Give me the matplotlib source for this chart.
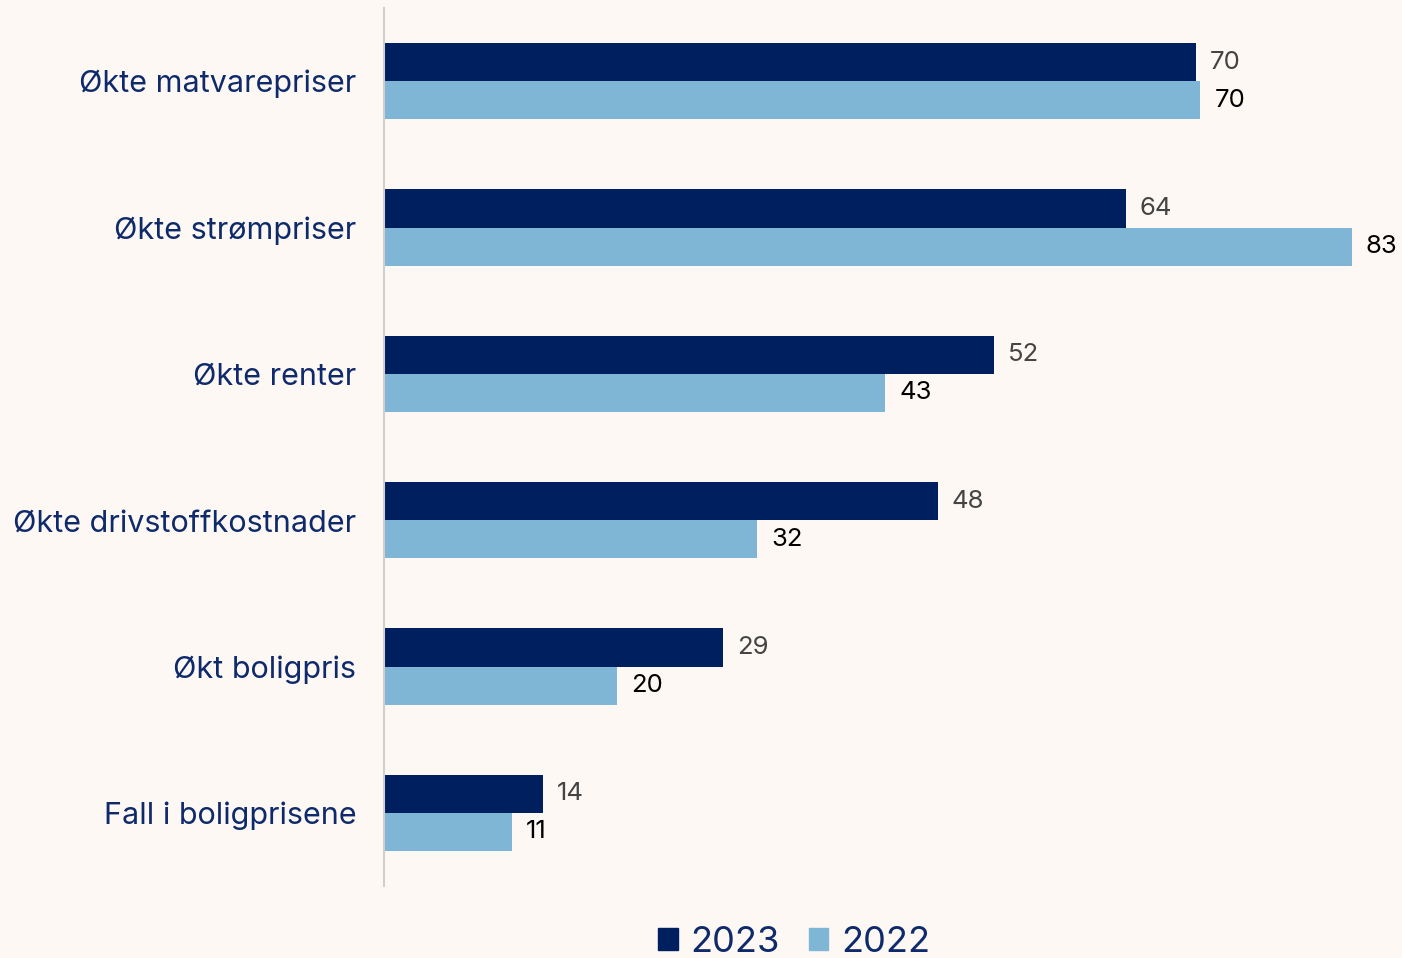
import numpy as np
import matplotlib.pyplot as plt
from matplotlib.patches import Patch

# --- data ---
categories = ["Økte matvarepriser", "Økte strømpriser", "Økte renter",
              "Økte drivstoffkostnader", "Økt boligpris", "Fall i boligprisene"]
vals_2023 = [69.6, 63.6, 52.3, 47.5, 29.1, 13.6]
vals_2022 = [70, 83, 43, 32, 20, 11]
labels_2023 = ["70", "64", "52", "48", "29", "14"]
labels_2022 = ["70", "83", "43", "32", "20", "11"]

BG = '#fdf8f4'
NAVY = '#001f5f'
LIGHT = '#7fb5d5'
TXT = '#0f2a6b'

plt.rcParams['font.family'] = ['Inter', 'DejaVu Sans']

fig = plt.figure(figsize=(14.02, 9.58), dpi=100)
fig.patch.set_facecolor(BG)
ax = fig.add_axes([384 / 1402, 1 - 886 / 958, 1 - 384 / 1402, 878 / 958])
ax.set_facecolor(BG)

y = np.arange(len(categories))
h = 0.26
b1 = ax.barh(y - h / 2, vals_2023, height=h, color=NAVY, label='2023')
b2 = ax.barh(y + h / 2, vals_2022, height=h, color=LIGHT, label='2022')

for bar, lab in zip(b1, labels_2023):
    ax.annotate(lab, (bar.get_width(), bar.get_y() + bar.get_height() / 2),
                xytext=(10, 0), textcoords='offset points', va='center', ha='left',
                fontsize=18.5, color='#444444')
for bar, lab in zip(b2, labels_2022):
    ax.annotate(lab, (bar.get_width(), bar.get_y() + bar.get_height() / 2),
                xytext=(10, 0), textcoords='offset points', va='center', ha='left',
                fontsize=18.5, color='black')

ax.set_ylim(len(categories) - 0.5, -0.5)
ax.set_xlim(0, 1018 / (968 / 83))
ax.set_yticks(y)
ax.set_yticklabels(categories, fontsize=22, color=TXT)
ax.tick_params(axis='y', length=0, pad=20)
ax.set_xticks([])
for s in ['top', 'right', 'bottom']:
    ax.spines[s].set_visible(False)
ax.spines['left'].set_color('#cfcfcf')
ax.spines['left'].set_linewidth(1.5)

handles = [Patch(color=NAVY), Patch(color=LIGHT)]
fig.legend(handles, ['2023', '2022'], loc='center', ncol=2,
           bbox_to_anchor=(794 / 1402, 1 - 942 / 958), frameon=False,
           fontsize=26, labelcolor=TXT, handlelength=0.55, handleheight=0.55,
           handletextpad=0.35, columnspacing=0.8)

fig.savefig('out.png', dpi=100, facecolor=BG)
